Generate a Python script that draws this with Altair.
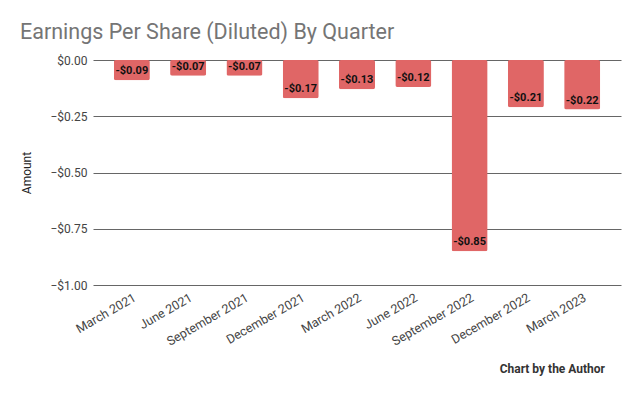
import altair as alt
import pandas as pd

quarters = ["March 2021", "June 2021", "September 2021", "December 2021", "March 2022",
            "June 2022", "September 2022", "December 2022", "March 2023"]
eps = [-0.09, -0.07, -0.07, -0.17, -0.13, -0.12, -0.85, -0.21, -0.22]
labels = ["-$0.09", "-$0.07", "-$0.07", "-$0.17", "-$0.13", "-$0.12", "-$0.85", "-$0.21", "-$0.22"]

df = pd.DataFrame({"Quarter": quarters, "EPS": eps, "Label": labels})

FONT = "Roboto"

x = alt.X("Quarter:N", sort=quarters, title=None,
          scale=alt.Scale(paddingInner=0.36, paddingOuter=0.37),
          axis=alt.Axis(labelAngle=-30, labelAlign="right", labelBaseline="top",
                        labelFont=FONT, labelFontSize=12.5, labelColor="#444444",
                        ticks=False, domain=False, labelPadding=6))
y = alt.Y("EPS:Q", title="Amount",
          scale=alt.Scale(domain=[-1.0, 0.0], nice=False),
          axis=alt.Axis(values=[0, -0.25, -0.5, -0.75, -1.0], format="$.2f",
                        labelFont=FONT, labelFontSize=12, labelColor="#444444",
                        titleFont=FONT, titleFontSize=12, titleColor="#222222",
                        titleFontWeight="normal", titlePadding=16,
                        ticks=False, domain=False, labelPadding=6,
                        gridColor="#666666", gridWidth=1))

bars = alt.Chart(df).mark_bar(color="#e06666", cornerRadius=2).encode(x=x, y=y)

text = alt.Chart(df).mark_text(font=FONT, fontSize=11, fontWeight="bold", color="#111111",
                               baseline="middle", dy=-9).encode(
    x=alt.X("Quarter:N", sort=quarters), y="EPS:Q", text="Label:N")

footer = alt.Chart(pd.DataFrame({"t": ["Chart by the Author"]})).mark_text(
    font=FONT, fontSize=12, fontWeight="bold", color="#333333", align="right",
    baseline="middle").encode(x=alt.value(512), y=alt.value(309), text="t:N")

chart = alt.layer(bars, text, footer).properties(
    width=528, height=225,
    padding={"left": 85, "top": 52, "right": 10, "bottom": 100},
    autosize=alt.AutoSizeParams(type="none"),
    title=alt.TitleParams("Earnings Per Share (Diluted) By Quarter", anchor="start",
                          frame="group", dx=-73, offset=11, font=FONT, fontSize=21.5,
                          fontWeight="normal", color="#757575"),
).configure_view(stroke=None)

chart.save("out.html", embed_options={"renderer": "svg", "actions": False})
